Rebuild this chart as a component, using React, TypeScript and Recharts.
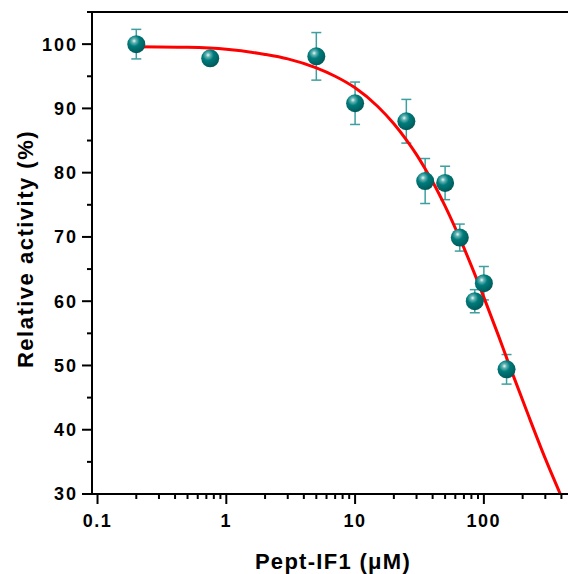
import React from "react";
import {
  ComposedChart, Line, Scatter, XAxis, YAxis, ErrorBar, ReferenceLine, Label,
} from "recharts";

// measured points: concentration (µM), relative activity (%), error (±)
const concUM      = [0.2, 0.75, 5, 10, 25, 35, 50, 65, 85, 100, 150];
const activity    = [100, 97.8, 98.1, 90.8, 88.0, 78.7, 78.4, 69.9, 60.0, 62.8, 49.4];
const activityErr = [2.3, 1.0, 3.7, 3.3, 3.4, 3.5, 2.6, 2.1, 1.8, 2.6, 2.3];

// fitted curve
const fitConc     = [0.2, 0.5, 1, 2, 3, 5, 7, 10, 15, 20, 25, 30, 35, 40, 50, 65, 80, 100, 130, 150, 170, 220, 300, 392];
const fitActivity = [99.6, 99.5, 99.2, 98.4, 97.7, 96.3, 95.0, 93.2, 90.3, 87.6, 85.1, 82.8, 80.6, 78.6, 74.8, 69.8, 65.5, 60.6, 54.6, 51.2, 48.3, 42.4, 35.5, 30.0];

const xMajorTicks = [0.1, 1, 10, 100];
const xMinorTicks = [0.2, 0.3, 0.4, 0.5, 0.6, 0.7, 0.8, 0.9, 2, 3, 4, 5, 6, 7, 8, 9, 20, 30, 40, 50, 60, 70, 80, 90, 200, 300, 400];
const yMajorTicks = [30, 40, 50, 60, 70, 80, 90, 100];
const yMinorTicks = [35, 45, 55, 65, 75, 85, 95, 105];

const points = concUM.map((x, i) => ({ x, y: activity[i], err: activityErr[i] }));
const fit = fitConc.map((x, i) => ({ x, y: fitActivity[i] }));

const FONT = "'Liberation Sans', Arial, sans-serif";
const TEAL = "#007b7b";
const ERR = "#3f9f9f";

const xMajorSet = new Set(xMajorTicks);
const yMajorSet = new Set(yMajorTicks);

function XTick(props: any) {
  const { x, y, payload } = props;
  const major = xMajorSet.has(payload.value);
  return (
    <g>
      <line x1={x} x2={x} y1={y} y2={y + (major ? 10 : 5)} stroke="#000" strokeWidth={2} />
      {major && (
        <text x={x} y={y + 33} textAnchor="middle" fontFamily={FONT} fontWeight="bold"
              fontSize={18} letterSpacing={1.5} fill="#000">
          {String(payload.value)}
        </text>
      )}
    </g>
  );
}

function YTick(props: any) {
  const { x, y, payload } = props;
  const major = yMajorSet.has(payload.value);
  return (
    <g>
      <line x1={x} x2={x - (major ? 10 : 5)} y1={y} y2={y} stroke="#000" strokeWidth={2} />
      {major && (
        <text x={x - 14} y={y} dy="0.36em" textAnchor="end" fontFamily={FONT} fontWeight="bold"
              fontSize={18} letterSpacing={2} fill="#000">
          {String(payload.value)}
        </text>
      )}
    </g>
  );
}

function Sphere(props: any) {
  const { cx, cy } = props;
  return (
    <g>
      <defs>
        <radialGradient id="sphereFill" cx="38%" cy="32%" r="68%">
          <stop offset="0%" stopColor="#eaf7f7" />
          <stop offset="18%" stopColor="#62b3b3" />
          <stop offset="45%" stopColor={TEAL} />
          <stop offset="100%" stopColor="#005a5a" />
        </radialGradient>
      </defs>
      <circle cx={cx} cy={cy} r={9} fill="url(#sphereFill)" />
    </g>
  );
}

export default function App() {
  return (
    <div style={{ position: "absolute", left: 0, top: 0, width: 568, height: 574, background: "#fff" }}>
      <ComposedChart width={568} height={574} margin={{ top: 12, right: 0, bottom: 0, left: 0 }}>
        <XAxis dataKey="x" type="number" scale="log" domain={[0.0906, 450]} allowDataOverflow
               ticks={[...xMajorTicks, ...xMinorTicks]} interval={0} height={80}
               tickSize={0} tickMargin={0} tickLine={false} tick={<XTick />}
               axisLine={{ stroke: "#000", strokeWidth: 2 }}>
          <Label content={() => (
            <text x={333} y={569} textAnchor="middle" fontFamily={FONT} fontWeight="bold"
                  fontSize={22} letterSpacing={1.3} fill="#000">Pept-IF1 (μM)</text>
          )} />
        </XAxis>
        <YAxis type="number" domain={[30, 105]} allowDataOverflow width={92}
               ticks={[...yMajorTicks, ...yMinorTicks]} interval={0}
               tickSize={0} tickMargin={0} tickLine={false} tick={<YTick />}
               axisLine={{ stroke: "#000", strokeWidth: 2 }}>
          <Label content={() => (
            <text x={33} y={249} transform="rotate(-90 33 249)" textAnchor="middle" fontFamily={FONT}
                  fontWeight="bold" fontSize={22} letterSpacing={1.5} fill="#000">Relative activity (%)</text>
          )} />
        </YAxis>
        <ReferenceLine y={105} stroke="#000" strokeWidth={2} ifOverflow="visible" />
        <Scatter data={points} dataKey="y" shape={<Sphere />} isAnimationActive={false}>
          <ErrorBar dataKey="err" direction="y" width={5} stroke={ERR} strokeWidth={1.5} isAnimationActive={false} />
        </Scatter>
        <Line data={fit} dataKey="y" type="monotone" stroke="#ff0000" strokeWidth={3}
              dot={false} activeDot={false} isAnimationActive={false} />
      </ComposedChart>
    </div>
  );
}
